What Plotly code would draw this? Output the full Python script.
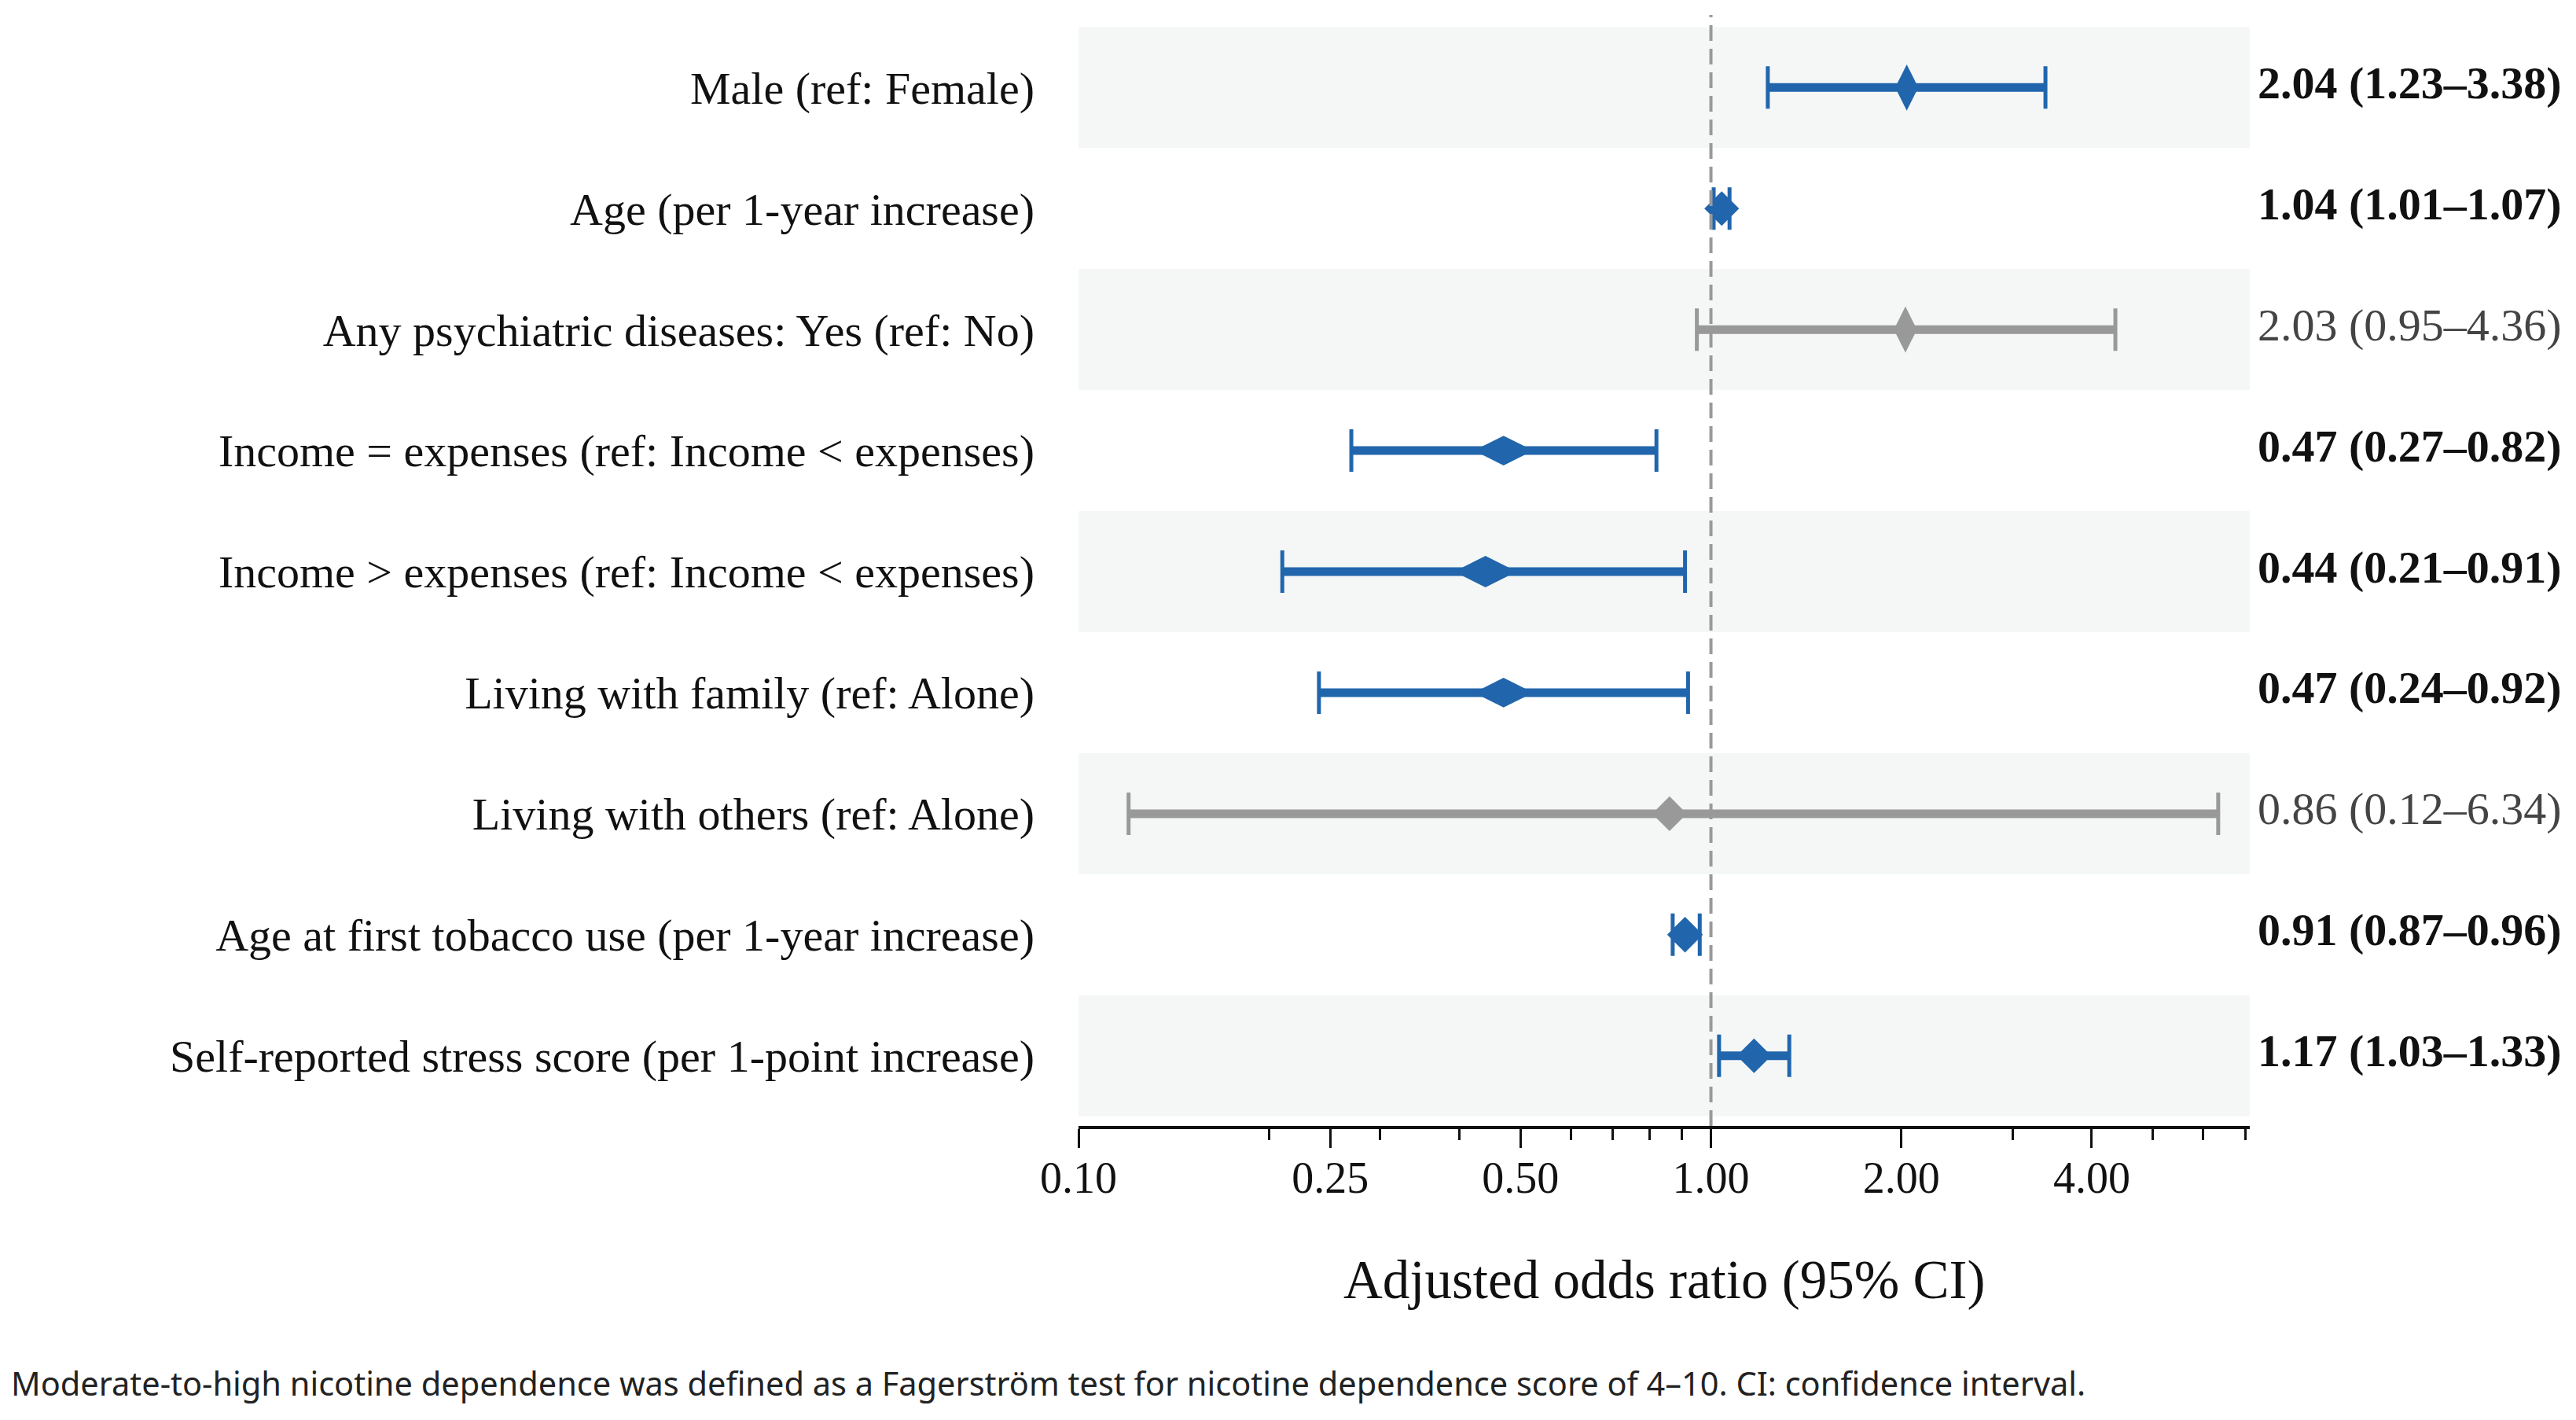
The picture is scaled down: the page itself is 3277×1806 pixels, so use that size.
import plotly.graph_objects as go

# 数据
labels = [
    "Male (ref: Female)",
    "Age (per 1-year increase)",
    "Any psychiatric diseases: Yes (ref: No)",
    "Income = expenses (ref: Income < expenses)",
    "Income > expenses (ref: Income < expenses)",
    "Living with family (ref: Alone)",
    "Living with others (ref: Alone)",
    "Age at first tobacco use (per 1-year increase)",
    "Self-reported stress score (per 1-point increase)",
]
odds_ratio = [2.04, 1.04, 2.03, 0.47, 0.44, 0.47, 0.86, 0.91, 1.17]
ci_low = [1.23, 1.01, 0.95, 0.27, 0.21, 0.24, 0.12, 0.87, 1.03]
ci_high = [3.38, 1.07, 4.36, 0.82, 0.91, 0.92, 6.34, 0.96, 1.33]

major_ticks = [0.10, 0.25, 0.50, 1.00, 2.00, 4.00]
major_text = ["0.10", "0.25", "0.50", "1.00", "2.00", "4.00"]
minor_ticks = [0.2, 0.3, 0.4, 0.6, 0.7, 0.8, 0.9, 3, 5, 6, 7]

# 菱形样式 (每行)
diamond_symbol = ["diamond-tall", "diamond", "diamond-tall", "diamond-wide", "diamond-wide",
                  "diamond-wide", "diamond", "diamond", "diamond"]
diamond_size = [42, 34, 42, 54, 57, 54, 34, 35, 34]

blue = "#2166ac"
gray = "#999999"
serif = "Liberation Serif, Times New Roman, serif"

fig = go.Figure()

for i, lab in enumerate(labels):
    sig = ci_low[i] > 1 or ci_high[i] < 1
    c = blue if sig else gray
    # 置信区间粗线
    fig.add_trace(go.Scatter(
        x=[ci_low[i], ci_high[i]], y=[i, i], mode="lines",
        line=dict(color=c, width=11), hoverinfo="skip", showlegend=False,
    ))
    # 点估计 + 端帽
    fig.add_trace(go.Scatter(
        x=[odds_ratio[i]], y=[i], mode="markers",
        marker=dict(symbol=diamond_symbol[i], size=diamond_size[i], color=c,
                    line=dict(width=0)),
        error_x=dict(type="data", symmetric=False,
                     array=[ci_high[i] - odds_ratio[i]],
                     arrayminus=[odds_ratio[i] - ci_low[i]],
                     color=c, thickness=5, width=27),
        showlegend=False,
        hovertemplate=lab + "<br>OR %{x:.2f}<extra></extra>",
    ))
    # 右侧数值
    txt = f"{odds_ratio[i]:.2f} ({ci_low[i]:.2f}–{ci_high[i]:.2f})"
    fig.add_annotation(
        x=1, xref="paper", xshift=8, y=i, yref="y", xanchor="left", yshift=6,
        text=f"<b>{txt}</b>" if sig else txt, showarrow=False,
        font=dict(family=serif, size=58, color="#111111" if sig else "#444444"),
    )

# 交替背景条
shapes = []
for i in range(0, len(labels), 2):
    shapes.append(dict(type="rect", xref="x domain", x0=0, x1=1, y0=i - 0.5, y1=i + 0.5,
                       fillcolor="#f5f7f7", line=dict(width=0), layer="below"))
# 参考线 OR = 1
shapes.append(dict(type="line", xref="x", x0=1, x1=1, yref="y domain", y0=0, y1=1,
                   line=dict(color="#999999", width=4, dash="20px,10px")))

fig.add_annotation(
    x=0.5, xref="x domain", y=-0.167, yref="paper", text="Adjusted odds ratio (95% CI)",
    showarrow=False, font=dict(family=serif, size=69, color="#111111"),
)
fig.add_annotation(
    x=-0.913, xref="paper", y=-0.253, yref="paper", xanchor="left",
    text="Moderate-to-high nicotine dependence was defined as a Fagerström test for "
         "nicotine dependence score of 4–10. CI: confidence interval.",
    showarrow=False,
    font=dict(family="Noto Sans, DejaVu Sans", size=41.5, color="#222222"),
)

fig.update_layout(
    width=3277, height=1806,
    margin=dict(l=1364, r=423, t=11, b=382),
    paper_bgcolor="white", plot_bgcolor="white",
    shapes=shapes,
    xaxis=dict(
        type="log", range=[-1, 0.852], tickvals=major_ticks, ticktext=major_text,
        ticks="outside", ticklen=24, tickwidth=3, tickcolor="#111111",
        showline=True, linecolor="#111111", linewidth=4, showgrid=False, zeroline=False,
        tickfont=dict(family=serif, size=56, color="#111111"), ticklabelstandoff=-10,
        minor=dict(tickvals=minor_ticks, ticks="outside", ticklen=14, tickwidth=3,
                   tickcolor="#111111", showgrid=False),
    ),
    yaxis=dict(
        range=[8.58, -0.6], tickvals=list(range(len(labels))), ticktext=labels,
        ticks="", showline=False, showgrid=False, zeroline=False,
        tickfont=dict(family=serif, size=58, color="#111111"), ticklabelstandoff=55,
    ),
)

fig.write_html("out.html")
